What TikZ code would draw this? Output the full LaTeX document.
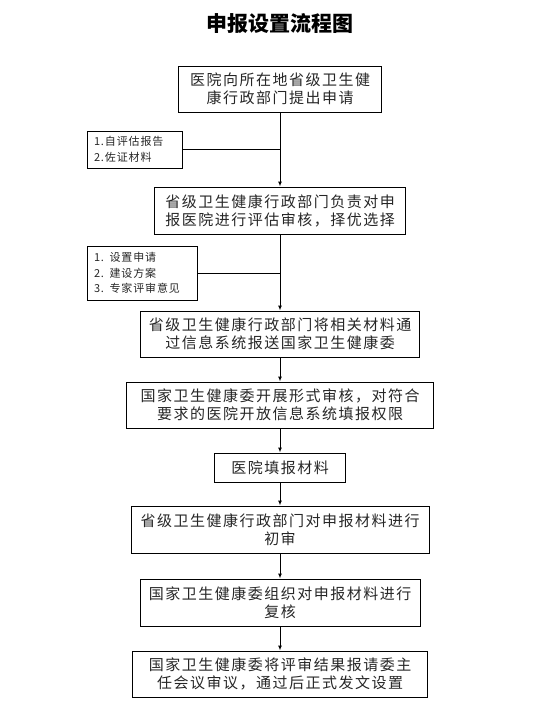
\documentclass[tikz,border=0pt]{standalone}
\usepackage{fontspec}
\setmainfont{Noto Sans CJK SC}
\newfontfamily\cjkbox{Noto Sans CJK SC}[LetterSpace=10]
\newfontfamily\cjknote{Noto Sans CJK SC}[LetterSpace=8]
\usetikzlibrary{arrows.meta}

\tikzset{
  stepbox/.style={draw, line width=1pt, align=center, inner sep=0pt,
    font=\cjkbox\fontsize{15}{18}\selectfont, text=black!85},
  notebox/.style={draw, line width=1pt, align=left, inner xsep=7pt, inner ysep=0pt,
    font=\cjknote\fontsize{11}{15.5}\selectfont, text=black!85},
  flow/.style={line width=1pt, -{Latex[length=5pt,width=4pt]}}
}

\begin{document}
\begin{tikzpicture}[x=1pt,y=-1pt]
        \useasboundingbox (0,0) rectangle (550,710);

        % ---- title ----------------------------------------
        \node[font=\fontsize{21}{24}\bfseries\selectfont] (title) at (280,24) {申报设置流程图};

        % ---- main steps -----------------------------------
        \node[stepbox, minimum width=203, minimum height=46] (apply)  at (280,89)    {医院向所在地省级卫生健\\康行政部门提出申请};
        \node[stepbox, minimum width=251, minimum height=47] (assess) at (280,210.5) {省级卫生健康行政部门负责对申\\报医院进行评估审核，择优选择};
        \node[stepbox, minimum width=279, minimum height=46] (submit) at (280,334)   {省级卫生健康行政部门将相关材料通\\过信息系统报送国家卫生健康委};
        \node[stepbox, minimum width=307, minimum height=46] (formal) at (280,405)   {国家卫生健康委开展形式审核，对符合\\要求的医院开放信息系统填报权限};
        \node[stepbox, minimum width=131, minimum height=29] (fill)   at (280,467.5) {医院填报材料};
        \node[stepbox, minimum width=298, minimum height=47] (first)  at (280,529.5) {省级卫生健康行政部门对申报材料进行\\初审};
        \node[stepbox, minimum width=280, minimum height=47] (review) at (280,602.5) {国家卫生健康委组织对申报材料进行\\复核};
        \node[stepbox, minimum width=295, minimum height=46] (final)  at (280,674)   {国家卫生健康委将评审结果报请委主\\任会议审议，通过后正式发文设置};

        % ---- side notes: materials ------------------------
        \node[notebox, text width=81, minimum height=37]  (docsA) at (134.5,149.5) {1.自评估报告\\2.佐证材料};
        \node[notebox, text width=96, minimum height=54]  (docsB) at (142,273)     {1. 设置申请\\2. 建设方案\\3. 专家评审意见};

        % ---- connectors -----------------------------------
        \foreach \a/\b in {apply/assess, assess/submit, submit/formal, formal/fill,
                           fill/first, first/review, review/final}
          \draw[flow] (\a) -- (\b);
        \draw[line width=1pt] (docsA.east) -- (docsA.east -| apply.south);
        \draw[line width=1pt] (docsB.east) -- (docsB.east -| assess.south);
    \end{tikzpicture}
\end{document}
